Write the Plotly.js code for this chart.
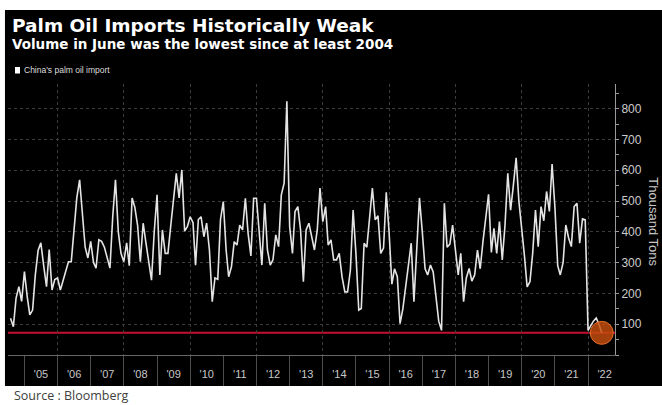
<!DOCTYPE html>
<html>
<head>
<meta charset="utf-8">
<script src="https://cdn.plot.ly/plotly-3.0.1.min.js"></script>
<style>
  html, body { margin: 0; padding: 0; background: #ffffff; }
  #chart { width: 662px; height: 405px; }
</style>
</head>
<body>
<div id="chart"></div>
<script>
// China's monthly palm oil imports, thousand tons
const imports2004 = [119, 92, 185, 222, 174];            // Aug–Dec
const imports2005 = [271, 189, 130, 146, 260, 340, 364, 290, 222, 342, 211, 245];
const imports2006 = [250, 211, 240, 270, 303, 303, 400, 510, 569, 450, 350, 315];
const imports2007 = [369, 300, 282, 374, 369, 350, 320, 282, 450, 569, 400, 330];
const imports2008 = [303, 364, 290, 510, 480, 420, 303, 428, 363, 300, 243, 400];
const imports2009 = [520, 260, 406, 330, 330, 420, 500, 590, 510, 601, 402, 417];
const imports2010 = [449, 430, 292, 440, 449, 384, 428, 341, 173, 250, 246, 440];
const imports2011 = [498, 341, 254, 287, 368, 357, 422, 406, 509, 395, 322, 509];
const imports2012 = [509, 400, 292, 493, 341, 292, 309, 390, 352, 520, 558, 824];
const imports2013 = [417, 330, 466, 482, 406, 238, 406, 428, 380, 341, 406, 542];
const imports2014 = [433, 482, 357, 374, 309, 309, 330, 254, 205, 205, 276, 471];
const imports2015 = [330, 146, 151, 363, 350, 440, 542, 439, 452, 330, 347, 528];
const imports2016 = [400, 230, 280, 254, 102, 150, 220, 280, 363, 173, 330, 510];
const imports2017 = [400, 280, 260, 292, 270, 190, 110, 80, 493, 350, 360, 422];
const imports2018 = [340, 260, 330, 173, 250, 281, 240, 260, 341, 280, 370, 450];
const imports2019 = [522, 333, 411, 330, 433, 309, 420, 590, 470, 550, 640, 500];
const imports2020 = [420, 320, 221, 238, 330, 471, 352, 482, 436, 531, 466, 620];
const imports2021 = [480, 290, 260, 300, 422, 380, 352, 482, 493, 363, 442, 439];
const imports2022 = [80, 95, 110, 120, 100, 72];           // Jan–Jun

const yearBlocks = [
  [2004, 8, imports2004], [2005, 1, imports2005], [2006, 1, imports2006],
  [2007, 1, imports2007], [2008, 1, imports2008], [2009, 1, imports2009],
  [2010, 1, imports2010], [2011, 1, imports2011], [2012, 1, imports2012],
  [2013, 1, imports2013], [2014, 1, imports2014], [2015, 1, imports2015],
  [2016, 1, imports2016], [2017, 1, imports2017], [2018, 1, imports2018],
  [2019, 1, imports2019], [2020, 1, imports2020], [2021, 1, imports2021],
  [2022, 1, imports2022]
];

const yTickValues = [100, 200, 300, 400, 500, 600, 700, 800];

const months = [];
const volumes = [];
yearBlocks.forEach(([year, firstMonth, values]) => {
  values.forEach((v, i) => {
    months.push(year + '-' + String(firstMonth + i).padStart(2, '0') + '-01');
    volumes.push(v);
  });
});
const lastMonth = months[months.length - 1];
const lastVolume = volumes[volumes.length - 1];

const xRange = ['2004-07-04', '2022-10-25'];

const lineTrace = {
  x: months, y: volumes, type: 'scatter', mode: 'lines',
  line: { color: '#e4e4e4', width: 1.6 },
  hoverinfo: 'x+y', showlegend: false
};

const latestMarker = {
  x: [lastMonth], y: [lastVolume], type: 'scatter', mode: 'markers',
  xaxis: 'x2', yaxis: 'y',
  marker: { size: 23, color: 'rgba(200,78,14,0.82)', line: { color: 'rgba(235,115,45,0.9)', width: 1 } },
  hoverinfo: 'skip', showlegend: false
};

const layout = {
  width: 662, height: 405,
  margin: { l: 8, r: 47, t: 84, b: 50 },
  paper_bgcolor: '#ffffff',
  plot_bgcolor: '#000000',
  showlegend: false,
  font: { family: 'Liberation Sans, Arial, sans-serif', color: '#cccccc' },
  xaxis: {
    type: 'date', range: xRange,
    tickmode: 'linear', tick0: '2005-01-01', dtick: 'M12',
    tickformat: "'%y", ticklabelmode: 'period',
    ticks: 'outside', ticklen: 30, tickwidth: 1, tickcolor: '#4d4d4d',
    ticklabelstandoff: -21,
    showline: true, linecolor: '#666666', linewidth: 1,
    showgrid: false, zeroline: false,
    tickfont: { size: 11, color: '#c8c8c8' }
  },
  xaxis2: {
    type: 'date', range: xRange, overlaying: 'x', side: 'bottom',
    tickmode: 'linear', tick0: '2006-01-01', dtick: 'M24',
    showticklabels: false, ticks: '', showline: false, zeroline: false,
    showgrid: true, gridcolor: '#3c3c3c', griddash: 'dot', gridwidth: 1
  },
  yaxis: {
    side: 'right', range: [0, 880],
    tickmode: 'array', tickvals: yTickValues,
    ticks: 'outside', ticklen: 3, tickcolor: '#999999',
    minor: { tickmode: 'linear', tick0: 0, dtick: 50, ticks: 'outside', ticklen: 3, tickcolor: '#999999', showgrid: false },
    showline: true, linecolor: '#9a9a9a', linewidth: 1,
    showgrid: true, gridcolor: '#3c3c3c', griddash: 'dot', gridwidth: 1,
    zeroline: false,
    tickfont: { size: 12, color: '#cccccc' }
  },
  shapes: [
    { type: 'rect', xref: 'paper', yref: 'paper', x0: -0.005, x1: 1.1, y0: -0.1144, y1: 1.273,
      fillcolor: '#000000', line: { width: 0 }, layer: 'below' },
    { type: 'line', xref: 'paper', yref: 'y', x0: 0, x1: 1, y0: lastVolume, y1: lastVolume,
      line: { color: '#c4102f', width: 2 }, layer: 'below' },
    { type: 'rect', xref: 'paper', yref: 'paper', x0: 0.0115, x1: 0.0198, y0: 1.0387, y1: 1.0627,
      fillcolor: '#ffffff', line: { width: 0 } }
  ],
  annotations: [
    { text: '<b>Palm Oil Imports Historically Weak</b>', xref: 'paper', yref: 'paper',
      x: 0.0033, y: 1.2177, xanchor: 'left', yanchor: 'middle', showarrow: false,
      font: { family: 'DejaVu Sans', size: 18.5, color: '#ffffff' } },
    { text: '<b>Volume in June was the lowest since at least 2004</b>', xref: 'paper', yref: 'paper',
      x: 0.0033, y: 1.1476, xanchor: 'left', yanchor: 'middle', showarrow: false,
      font: { family: 'DejaVu Sans', size: 13.5, color: '#ffffff' } },
    { text: "China's palm oil import", xref: 'paper', yref: 'paper',
      x: 0.0231, y: 1.0517, xanchor: 'left', yanchor: 'middle', showarrow: false,
      font: { family: 'Liberation Sans, Arial, sans-serif', size: 8.5, color: '#dddddd' } },
    { text: 'Thousand Tons', xref: 'paper', yref: 'paper',
      x: 1.064, y: 0.49, xanchor: 'center', yanchor: 'middle', textangle: 90, showarrow: false,
      font: { family: 'Liberation Sans, Arial, sans-serif', size: 13, color: '#c8c8c8' } },
    { text: 'Source : Bloomberg', xref: 'paper', yref: 'paper',
      x: 0.0066, y: -0.151, xanchor: 'left', yanchor: 'middle', showarrow: false,
      font: { family: 'Open Sans, sans-serif', size: 12.5, color: '#404040' } }
  ]
};

Plotly.newPlot('chart', [lineTrace, latestMarker], layout, { displayModeBar: false, staticPlot: true });
</script>
</body>
</html>
